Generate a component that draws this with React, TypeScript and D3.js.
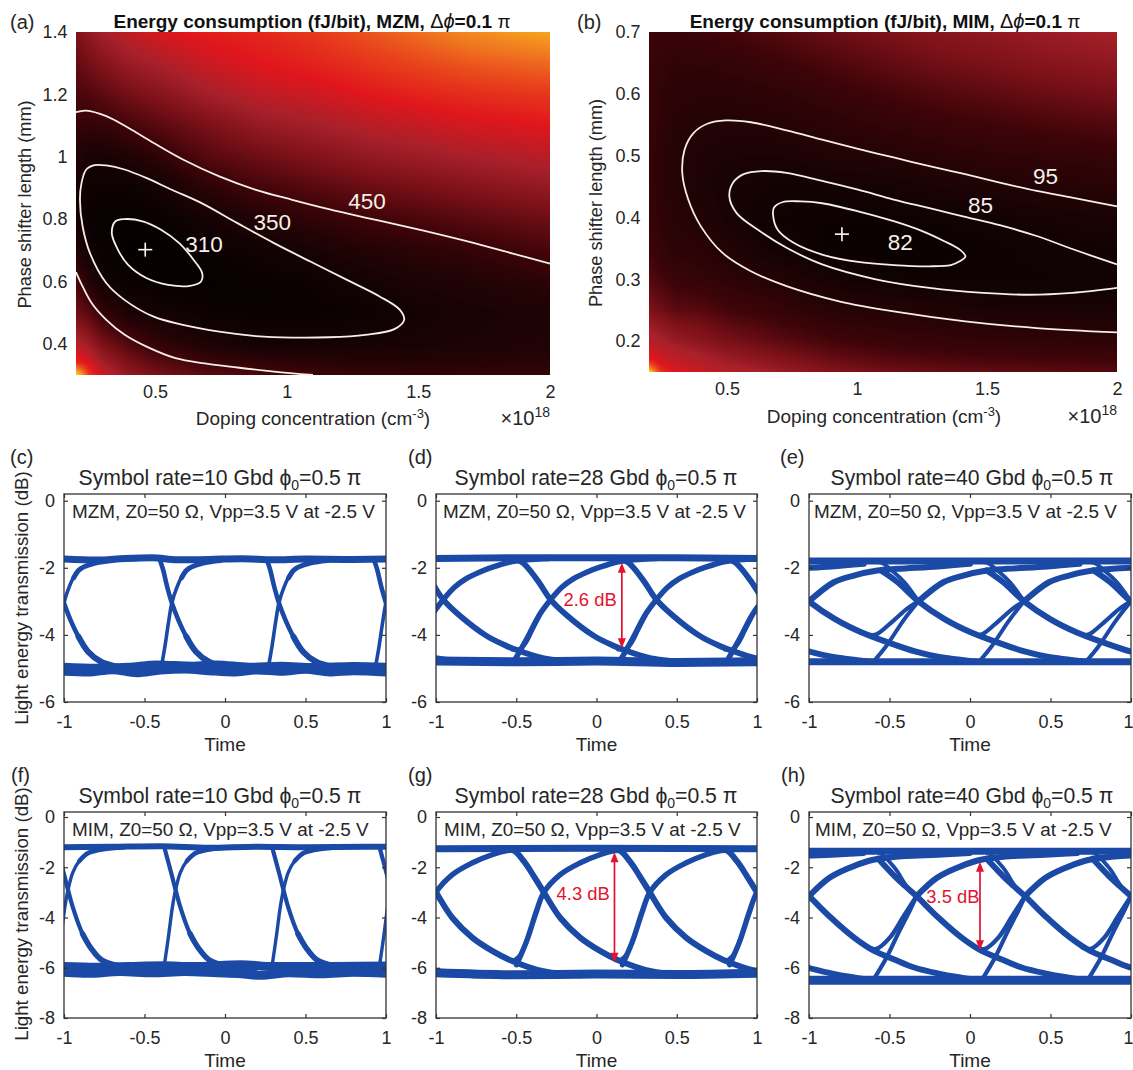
import React, { useRef, useEffect } from 'react';
import * as d3 from 'd3';

type Pt = [number, number];

// ---------- heat maps ----------
const gridXA = [0.2, 0.25, 0.3, 0.4, 0.5, 0.7, 0.9, 1.1, 1.3, 1.5, 1.7, 2.0];
const gridYA = [1.4, 1.3, 1.2, 1.1, 1.0, 0.9, 0.8, 0.7, 0.6, 0.5, 0.4, 0.34, 0.3];
const energyA = [
  [560, 600, 640, 690, 730, 770, 790, 830, 885, 940, 1000, 1060],
  [510, 540, 570, 620, 650, 710, 750, 780, 820, 860, 895, 930],
  [470, 480, 500, 540, 570, 640, 690, 715, 750, 780, 805, 830],
  [435, 430, 435, 460, 490, 550, 610, 640, 675, 700, 725, 750],
  [395, 370, 365, 385, 415, 490, 530, 565, 600, 625, 650, 680],
  [360, 335, 330, 335, 350, 415, 458, 490, 520, 545, 570, 605],
  [358, 325, 315, 310, 318, 358, 395, 425, 450, 470, 495, 530],
  [395, 345, 320, 302, 303, 322, 345, 370, 395, 415, 430, 465],
  [465, 400, 350, 322, 312, 310, 322, 332, 358, 378, 392, 415],
  [530, 490, 430, 375, 355, 330, 320, 322, 330, 356, 368, 385],
  [680, 620, 550, 480, 430, 380, 355, 358, 360, 368, 378, 390],
  [800, 730, 640, 555, 500, 447, 425, 410, 400, 398, 405, 410],
  [1200, 830, 710, 600, 550, 495, 470, 445, 435, 425, 428, 430],
];
const stopsA = [300, 350, 400, 450, 550, 650, 750, 850, 950, 1050, 1250];

const gridXB = [0.2, 0.25, 0.3, 0.4, 0.5, 0.7, 0.9, 1.1, 1.3, 1.5, 1.7, 2.0];
const gridYB = [0.7, 0.65, 0.6, 0.55, 0.5, 0.45, 0.4, 0.35, 0.3, 0.25, 0.2, 0.17, 0.15];
const energyB = [
  [110, 108, 108, 110, 112, 118, 125, 131, 137, 142, 147, 155],
  [108, 104, 102, 103, 104, 109, 115, 121, 127, 131, 136, 142],
  [107, 102, 99, 98, 98, 101, 106, 111, 116, 120, 124, 129],
  [106, 100, 97, 95.5, 94.5, 95.5, 99, 103, 107, 110, 113, 117],
  [105, 99, 96, 92, 90, 90, 93.5, 95, 98, 101, 103, 106],
  [105, 99, 96, 91, 88, 85.5, 86, 87, 90, 92, 94.5, 98],
  [106, 100, 97, 93.5, 89, 83, 82.3, 82.5, 84, 85, 87.5, 90],
  [110, 104, 100, 98, 93, 85, 81.5, 81, 81, 82.5, 84, 86],
  [118, 112, 107, 105, 100, 94, 87, 84, 83, 83, 83, 84],
  [132, 126, 120, 118, 112, 105, 97, 95, 92.5, 90, 89.5, 89],
  [165, 155, 146, 138, 130, 120, 112, 107, 105, 103, 102, 100],
  [215, 190, 175, 160, 148, 135, 124, 118, 115, 113, 112, 110],
  [290, 225, 205, 182, 165, 148, 135, 128, 124, 122, 120, 118],
];
const stopsB = [78, 85, 95, 110, 130, 155, 205, 235, 255, 270, 290];
const heatColors = ['#040000', '#120203', '#240305', '#3d0408', '#7a1018', '#a8202a', '#e0161c', '#e8401c', '#ef741f', '#f5a01e', '#ffe81e'];

// ---------- contours ----------
const contour450Upper: Pt[] = [[0.2, 1.143], [0.239, 1.148], [0.315, 1.13], [0.398, 1.093], [0.495, 1.044], [0.606, 0.991], [0.744, 0.937], [0.883, 0.894], [1.021, 0.862], [1.16, 0.832], [1.298, 0.805], [1.436, 0.779], [1.575, 0.752], [1.713, 0.723], [1.852, 0.691], [2.0, 0.657]];
const contour450Lower: Pt[] = [[0.2, 0.63], [0.225, 0.584], [0.26, 0.53], [0.315, 0.477], [0.385, 0.429], [0.468, 0.391], [0.578, 0.354], [0.689, 0.337], [0.813, 0.324], [0.952, 0.311], [1.1, 0.3]];
const contour350: Pt[] = [[0.215, 0.862], [0.225, 0.777], [0.253, 0.691], [0.315, 0.595], [0.384, 0.541], [0.495, 0.487], [0.606, 0.461], [0.744, 0.439], [0.883, 0.425], [1.021, 0.42], [1.16, 0.421], [1.298, 0.429], [1.409, 0.447], [1.446, 0.477], [1.43, 0.509], [1.353, 0.552], [1.229, 0.605], [1.09, 0.664], [0.952, 0.723], [0.813, 0.787], [0.675, 0.852], [0.564, 0.894], [0.467, 0.932], [0.384, 0.959], [0.315, 0.972], [0.271, 0.973], [0.239, 0.959], [0.221, 0.916]];
const contour310: Pt[] = [[0.336, 0.755], [0.356, 0.707], [0.398, 0.653], [0.467, 0.611], [0.55, 0.589], [0.633, 0.586], [0.675, 0.6], [0.679, 0.627], [0.647, 0.669], [0.592, 0.723], [0.523, 0.766], [0.453, 0.793], [0.384, 0.8], [0.35, 0.793]];
const contour95: Pt[] = [[2.0, 0.214], [1.691, 0.221], [1.416, 0.232], [1.141, 0.248], [0.935, 0.264], [0.729, 0.289], [0.592, 0.313], [0.482, 0.343], [0.399, 0.386], [0.351, 0.429], [0.328, 0.472], [0.337, 0.51], [0.372, 0.537], [0.427, 0.552], [0.495, 0.557], [0.592, 0.554], [0.729, 0.541], [0.866, 0.526], [1.004, 0.511], [1.141, 0.497], [1.279, 0.483], [1.416, 0.47], [1.553, 0.456], [1.691, 0.443], [1.828, 0.432], [2.0, 0.418]];
const contour85: Pt[] = [[2.0, 0.286], [1.828, 0.278], [1.663, 0.275], [1.485, 0.278], [1.279, 0.286], [1.072, 0.3], [0.866, 0.324], [0.729, 0.351], [0.619, 0.38], [0.537, 0.407], [0.509, 0.434], [0.523, 0.456], [0.564, 0.47], [0.633, 0.475], [0.729, 0.472], [0.866, 0.459], [1.004, 0.445], [1.141, 0.429], [1.279, 0.415], [1.416, 0.401], [1.553, 0.387], [1.691, 0.37], [1.828, 0.349], [2.0, 0.324]];
const contour82: Pt[] = [[0.677, 0.405], [0.695, 0.38], [0.756, 0.359], [0.866, 0.34], [1.004, 0.328], [1.141, 0.323], [1.279, 0.321], [1.361, 0.323], [1.395, 0.329], [1.417, 0.337], [1.395, 0.348], [1.334, 0.362], [1.251, 0.378], [1.141, 0.394], [1.004, 0.41], [0.866, 0.423], [0.784, 0.426], [0.715, 0.425], [0.681, 0.416]];

// ---------- eye traces: [time after crossing, dB] ----------
const cCrossings = [-1.665, -1, -0.33, 0.335, 1.0];
const cRise: Pt[] = [[-0.065, -4.95], [-0.045, -4.4], [-0.02, -3.6], [0, -3.05], [0.03, -2.6], [0.07, -2.2], [0.12, -1.98], [0.2, -1.85], [0.3, -1.78], [0.45, -1.75]];
const cRiseArc: Pt[] = [[0.06, -2.3], [0.09, -2.08], [0.12, -1.98], [0.2, -1.85], [0.3, -1.78]];
const cFall: Pt[] = [[-0.075, -1.75], [-0.055, -2.05], [-0.03, -2.55], [0, -3.05], [0.04, -3.55], [0.09, -4.05], [0.15, -4.5], [0.23, -4.8], [0.33, -4.95], [0.5, -5.0]];
const cFallArc: Pt[] = [[0.09, -4.05], [0.15, -4.5], [0.23, -4.8], [0.33, -4.95]];
const cTop: Pt[] = [[-1, -1.74], [-0.8, -1.77], [-0.62, -1.72], [-0.45, -1.7], [-0.3, -1.76], [-0.1, -1.75], [0.1, -1.73], [0.3, -1.76], [0.5, -1.74], [0.75, -1.75], [1, -1.74]];
const cLowA: Pt[] = [[-1, -5.1], [-0.85, -5.12], [-0.7, -5.05], [-0.55, -5.14], [-0.4, -5.06], [-0.25, -5.03], [-0.1, -5.08], [0.05, -5.12], [0.2, -5.06], [0.35, -5.1], [0.5, -5.04], [0.65, -5.12], [0.8, -5.08], [1, -5.12]];
const cLowB: Pt[] = [[-1, -4.95], [-0.8, -4.98], [-0.6, -4.95], [-0.42, -4.88], [-0.2, -4.92], [-0.05, -4.88], [0.15, -4.95], [0.35, -4.92], [0.55, -4.96], [0.8, -4.93], [1, -4.95]];

const dCrossings = [-1.62, -0.955, -0.286, 0.373, 1.04, 1.7];
const dRise: Pt[] = [[-0.22, -4.72], [-0.15, -4.13], [-0.067, -3.38], [0, -2.95], [0.07, -2.58], [0.141, -2.33], [0.225, -2.13], [0.307, -1.98], [0.43, -1.81], [0.52, -1.76], [0.66, -1.72]];
const dRise2: Pt[] = [[-0.24, -4.45], [-0.2, -4.42], [-0.16, -4.3], [-0.11, -3.85], [-0.05, -3.3], [0, -2.95]];
const dFall: Pt[] = [[-0.3, -1.72], [-0.19, -1.8], [-0.145, -1.98], [-0.073, -2.43], [0, -2.95], [0.104, -3.43], [0.27, -4.03], [0.395, -4.33], [0.477, -4.48], [0.627, -4.7], [0.85, -4.82]];
const dTop: Pt[] = [[-1, -1.72], [-0.5, -1.7], [0, -1.7], [0.5, -1.7], [1, -1.72]];
const dLow: Pt[] = [[-1, -4.78], [-0.5, -4.8], [0, -4.78], [0.5, -4.82], [1, -4.8]];

const eCrossings = [-1.66, -1, -0.32, 0.336, 1.0, 1.66];
const eRiseMain: Pt[] = [[0, -3], [0.154, -2.43], [0.278, -2.23], [0.424, -2.08], [0.55, -2.03], [0.8, -1.96], [1.0, -1.88]];
const eRiseA: Pt[] = [[-0.3, -4.0], [-0.26, -3.98], [-0.157, -3.58], [-0.074, -3.23], [0, -3]];
const eRiseB: Pt[] = [[-0.28, -4.8], [-0.2, -4.33], [-0.095, -3.58], [0, -3]];
const eFallA: Pt[] = [[-0.232, -2.08], [-0.129, -2.43], [0, -3], [0.162, -3.53], [0.328, -3.93], [0.494, -4.23], [0.664, -4.5], [0.8, -4.65], [1.04, -4.8]];
const eFallB: Pt[] = [[-0.35, -1.8], [-0.232, -1.85], [-0.16, -2.1], [-0.087, -2.43], [0, -3]];
const eTop: Pt[] = [[-1, -1.8], [0, -1.8], [1, -1.8]];
const eLow: Pt[] = [[-1, -4.8], [0, -4.8], [1, -4.8]];

const fCrossings = [-1.645, -0.975, -0.307, 0.363, 1.03];
const fRise: Pt[] = [[-0.07, -5.9], [-0.045, -4.8], [-0.02, -3.6], [0, -2.9], [0.03, -2.2], [0.07, -1.75], [0.13, -1.42], [0.22, -1.28], [0.35, -1.2]];
const fRiseArc: Pt[] = [[0.07, -1.75], [0.1, -1.55], [0.13, -1.42], [0.22, -1.28], [0.35, -1.2]];
const fFall: Pt[] = [[-0.07, -1.2], [-0.045, -1.8], [-0.02, -2.4], [0, -2.9], [0.03, -3.6], [0.08, -4.5], [0.14, -5.2], [0.21, -5.7], [0.33, -5.95], [0.5, -6.05]];
const fFallArc: Pt[] = [[0.09, -4.65], [0.14, -5.2], [0.21, -5.7], [0.33, -5.95]];
const fTop: Pt[] = [[-1, -1.2], [-0.7, -1.18], [-0.4, -1.16], [-0.1, -1.22], [0.2, -1.18], [0.5, -1.2], [1, -1.18]];
const fLowA: Pt[] = [[-1, -6.18], [-0.85, -6.22], [-0.65, -6.15], [-0.45, -6.2], [-0.25, -6.15], [-0.05, -6.2], [0.1, -6.24], [0.22, -6.3], [0.4, -6.2], [0.6, -6.24], [0.8, -6.18], [1, -6.22]];
const fLowB: Pt[] = [[-1, -5.95], [-0.8, -5.98], [-0.6, -5.95], [-0.38, -5.92], [-0.2, -5.95], [0.1, -5.88], [0.3, -5.95], [0.6, -5.95], [1, -5.93]];

const gCrossings = [-1.66, -1, -0.328, 0.332, 1.0, 1.66];
const gRise: Pt[] = [[-0.17, -5.88], [-0.108, -4.95], [-0.046, -3.75], [0, -3], [0.1, -2.3], [0.224, -1.83], [0.349, -1.5], [0.442, -1.34], [0.6, -1.26]];
const gRise2: Pt[] = [[-0.19, -5.72], [-0.15, -5.5], [-0.1, -4.8], [-0.046, -3.75]];
const gFall: Pt[] = [[-0.3, -1.26], [-0.187, -1.34], [-0.125, -1.76], [-0.062, -2.36], [0, -3], [0.103, -4.02], [0.228, -4.81], [0.353, -5.34], [0.456, -5.68], [0.668, -6.14], [0.9, -6.3]];
const gTop: Pt[] = [[-1, -1.26], [0, -1.24], [1, -1.26]];
const gLow: Pt[] = [[-1, -6.2], [-0.5, -6.28], [0, -6.25], [0.5, -6.27], [1, -6.22]];

const hCrossings = [-1.66, -1, -0.332, 0.342, 1.0, 1.66];
const hRiseMain: Pt[] = [[0, -3.15], [0.125, -2.43], [0.249, -2.03], [0.373, -1.74], [0.436, -1.66], [0.6, -1.55], [0.8, -1.5], [1.0, -1.43]];
const hRiseA: Pt[] = [[-0.3, -5.2], [-0.25, -5.25], [-0.166, -4.8], [-0.083, -3.98], [0, -3.15]];
const hRiseB: Pt[] = [[-0.27, -6.5], [-0.187, -5.6], [-0.104, -4.5], [-0.04, -3.7], [0, -3.15]];
const hFallA: Pt[] = [[-0.238, -1.66], [-0.135, -2.36], [-0.07, -2.75], [0, -3.15], [0.135, -4.0], [0.28, -4.8], [0.405, -5.33], [0.53, -5.67], [0.658, -6.0], [0.9, -6.35], [1.05, -6.5]];
const hFallB: Pt[] = [[-0.35, -1.36], [-0.238, -1.4], [-0.135, -2.03], [-0.062, -2.75], [0, -3.15]];
const hTop: Pt[] = [[-1, -1.36], [0, -1.36], [1, -1.36]];
const hLow: Pt[] = [[-1, -6.5], [0, -6.5], [1, -6.5]];

const timeTicks = [-1, -0.5, 0, 0.5, 1];
const dbTicksMzm = [-6, -4, -2, 0];
const dbTicksMim = [-8, -6, -4, -2, 0];

const textFont = '"Liberation Sans", Arial, sans-serif';
const textColor = '#262626';
const eyeBlue = '#1a49a6';
const arrowRed = '#e3122e';

function heatImage(gridX: number[], gridY: number[], values: number[][], color: (v: number) => string, w: number, h: number, xInv: (p: number) => number, yInv: (p: number) => number) {
  // smooth shading of the read-off grid, the way "shading interp" paints it
  const canvas = document.createElement('canvas');
  canvas.width = w;
  canvas.height = h;
  const ctx = canvas.getContext('2d')!;
  const img = ctx.createImageData(w, h);
  const yAsc = gridY.map(d => -d);
  for (let py = 0; py < h; py++) {
    const yv = -yInv(py + 0.5);
    const j = Math.min(Math.max(d3.bisectRight(yAsc, yv) - 1, 0), gridY.length - 2);
    const ty = Math.min(Math.max((yv - yAsc[j]) / (yAsc[j + 1] - yAsc[j]), 0), 1);
    for (let px = 0; px < w; px++) {
      const xv = xInv(px + 0.5);
      const i = Math.min(Math.max(d3.bisectRight(gridX, xv) - 1, 0), gridX.length - 2);
      const tx = Math.min(Math.max((xv - gridX[i]) / (gridX[i + 1] - gridX[i]), 0), 1);
      const v = (values[j][i] * (1 - tx) + values[j][i + 1] * tx) * (1 - ty) + (values[j + 1][i] * (1 - tx) + values[j + 1][i + 1] * tx) * ty;
      const c = d3.rgb(color(v));
      const k = (py * w + px) * 4;
      img.data[k] = c.r;
      img.data[k + 1] = c.g;
      img.data[k + 2] = c.b;
      img.data[k + 3] = 255;
    }
  }
  ctx.putImageData(img, 0, 0);
  return canvas.toDataURL();
}

function addLabel(g: any, text: string, x: number, y: number, size: number, anchor = 'start') {
  return g.append('text').attr('x', x).attr('y', y).attr('font-size', size).attr('text-anchor', anchor)
    .attr('font-family', textFont).attr('fill', textColor).text(text);
}

function drawHeat(svg: any, opt: any) {
  const x = d3.scaleLinear().domain([0.2, 2]).range([opt.left, opt.right]);
  const y = d3.scaleLinear().domain(opt.yDomain).range([opt.bottom, opt.top]);
  const color = d3.scaleLinear<string>().domain(opt.stops).range(heatColors).clamp(true);
  const w = Math.round(opt.right - opt.left);
  const h = Math.round(opt.bottom - opt.top);
  svg.append('image')
    .attr('x', opt.left).attr('y', opt.top).attr('width', w).attr('height', h)
    .attr('preserveAspectRatio', 'none')
    .attr('href', heatImage(opt.gridX, opt.gridY, opt.values, color, w, h, (p: number) => x.invert(p + opt.left), (p: number) => y.invert(p + opt.top)));

  const open = d3.line<Pt>().x(d => x(d[0])).y(d => y(d[1])).curve(d3.curveCatmullRom);
  const closed = d3.line<Pt>().x(d => x(d[0])).y(d => y(d[1])).curve(d3.curveCatmullRomClosed);
  opt.openContours.forEach((c: Pt[]) => svg.append('path').attr('d', open(c)).attr('fill', 'none').attr('stroke', '#f6efe6').attr('stroke-width', 1.8));
  opt.closedContours.forEach((c: Pt[]) => svg.append('path').attr('d', closed(c)).attr('fill', 'none').attr('stroke', '#f6efe6').attr('stroke-width', 1.8));

  opt.contourLabels.forEach((l: any) => {
    svg.append('text').attr('x', x(l.x)).attr('y', y(l.y)).attr('dy', '0.36em').attr('text-anchor', 'middle')
      .attr('font-family', textFont).attr('font-size', 22.5).attr('fill', '#f4f0ea').text(l.text);
  });

  svg.append('line').attr('x1', x(opt.minX) - 7).attr('x2', x(opt.minX) + 7).attr('y1', y(opt.minY)).attr('y2', y(opt.minY)).attr('stroke', 'white').attr('stroke-width', 1.6);
  svg.append('line').attr('x1', x(opt.minX)).attr('x2', x(opt.minX)).attr('y1', y(opt.minY) - 7).attr('y2', y(opt.minY) + 7).attr('stroke', 'white').attr('stroke-width', 1.6);

  const xAxis = svg.append('g').attr('transform', `translate(0,${opt.bottom})`)
    .call(d3.axisBottom(x).tickValues([0.5, 1, 1.5, 2]).tickSize(0).tickPadding(10.5).tickFormat((d: any) => String(d)));
  const yAxis = svg.append('g').attr('transform', `translate(${opt.left},0)`)
    .call(d3.axisLeft(y).tickValues(opt.yTicks).tickSize(0).tickPadding(8.5).tickFormat((d: any) => String(d)));
  [xAxis, yAxis].forEach(a => {
    a.select('.domain').remove();
    a.selectAll('text').attr('font-family', textFont).attr('font-size', 18).attr('fill', textColor);
  });

  addLabel(svg, opt.panel, opt.panelX, 29, 20);
  const title = svg.append('text').attr('x', opt.titleX).attr('y', 28).attr('text-anchor', 'middle').attr('font-family', textFont).attr('font-size', 19).attr('font-weight', 'bold').attr('fill', '#111');
  title.append('tspan').text(`Energy consumption (fJ/bit), ${opt.device}, `);
  title.append('tspan').attr('font-weight', 'normal').attr('font-size', 20).text('Δ');
  title.append('tspan').attr('font-weight', 'normal').attr('font-style', 'italic').attr('font-size', 20).text('ϕ');
  title.append('tspan').text('=0.1 ');
  title.append('tspan').attr('font-weight', 'normal').text('π');

  const ylab = svg.append('text').attr('transform', `translate(${opt.yLabelX},${(opt.top + opt.bottom) / 2 + 1}) rotate(-90)`)
    .attr('text-anchor', 'middle').attr('font-family', textFont).attr('font-size', 18.2).attr('fill', textColor);
  ylab.text('Phase shifter length (mm)');

  const xlab = svg.append('text').attr('x', opt.xLabelX).attr('y', opt.xLabelY).attr('text-anchor', 'middle').attr('font-family', textFont).attr('font-size', 19).attr('fill', textColor);
  xlab.append('tspan').text('Doping concentration (cm');
  xlab.append('tspan').attr('font-size', 13).attr('dy', -7).text('-3');
  xlab.append('tspan').attr('dy', 7).text(')');

  const mult = svg.append('text').attr('x', opt.right).attr('y', opt.xLabelY).attr('text-anchor', 'end').attr('font-family', textFont).attr('font-size', 20).attr('fill', textColor);
  mult.append('tspan').text('×10');
  mult.append('tspan').attr('font-size', 14).attr('dy', -8).text('18');
}

function drawEye(svg: any, opt: any, idx: number) {
  const x = d3.scaleLinear().domain([-1, 1]).range([opt.left, opt.right]);
  const y = d3.scaleLinear().domain([opt.yMin, 0.2]).range([opt.bottom, opt.top]);
  const clipId = `eye-clip-${idx}`;
  svg.append('clipPath').attr('id', clipId).append('rect')
    .attr('x', opt.left).attr('y', opt.top).attr('width', opt.right - opt.left).attr('height', opt.bottom - opt.top);
  const plot = svg.append('g').attr('clip-path', `url(#${clipId})`);

  const railLine = d3.line<Pt>().x(d => x(d[0])).y(d => y(d[1])).curve(d3.curveMonotoneX);
  opt.rails.forEach(([pts, width]: [Pt[], number]) => {
    plot.append('path').attr('d', railLine(pts)).attr('fill', 'none').attr('stroke', eyeBlue).attr('stroke-width', width);
  });
  opt.traces.forEach(([pts, width]: [Pt[], number]) => {
    opt.crossings.forEach((c: number) => {
      const line = d3.line<Pt>().x(d => x(c + d[0])).y(d => y(d[1])).curve(d3.curveCatmullRom);
      plot.append('path').attr('d', line(pts)).attr('fill', 'none').attr('stroke', eyeBlue).attr('stroke-width', width).attr('stroke-linecap', 'round');
    });
  });

  svg.append('rect').attr('x', opt.left).attr('y', opt.top).attr('width', opt.right - opt.left).attr('height', opt.bottom - opt.top)
    .attr('fill', 'none').attr('stroke', '#333').attr('stroke-width', 1.3);

  const yTicks = opt.yMin === -6 ? dbTicksMzm : dbTicksMim;
  const bottomAxis = svg.append('g').attr('transform', `translate(0,${opt.bottom})`)
    .call(d3.axisBottom(x).tickValues(timeTicks).tickSizeInner(-4).tickSizeOuter(0).tickPadding(13.5).tickFormat((d: any) => String(d)));
  const leftAxis = svg.append('g').attr('transform', `translate(${opt.left},0)`)
    .call(d3.axisLeft(y).tickValues(yTicks).tickSizeInner(-4).tickSizeOuter(0).tickPadding(9).tickFormat((d: any) => String(d)));
  const topAxis = svg.append('g').attr('transform', `translate(0,${opt.top})`)
    .call(d3.axisTop(x).tickValues(timeTicks).tickSizeInner(-4).tickSizeOuter(0).tickFormat(() => ''));
  const rightAxis = svg.append('g').attr('transform', `translate(${opt.right},0)`)
    .call(d3.axisRight(y).tickValues(yTicks).tickSizeInner(-4).tickSizeOuter(0).tickFormat(() => ''));
  [bottomAxis, leftAxis, topAxis, rightAxis].forEach(a => {
    a.select('.domain').remove();
    a.selectAll('line').attr('stroke', '#333').attr('stroke-width', 1.2);
    a.selectAll('text').attr('font-family', textFont).attr('font-size', 18).attr('fill', textColor);
  });
  // the last tick label of the right column sits against the page edge
  if (opt.right > 1120) {
    bottomAxis.selectAll('.tick').filter((d: any) => d === 1).select('text').attr('text-anchor', 'end').attr('dx', 2);
  }

  const mid = (opt.left + opt.right) / 2;
  const title = svg.append('text').attr('x', opt.titleX).attr('y', opt.top - 9).attr('text-anchor', 'middle').attr('font-family', textFont).attr('font-size', 21.2).attr('fill', textColor);
  title.append('tspan').text(`Symbol rate=${opt.rate} Gbd ϕ`);
  title.append('tspan').attr('font-size', 14).attr('dy', 5).text('0');
  title.append('tspan').attr('dy', -5).text('=0.5 π');

  addLabel(svg, opt.panel, opt.panelX, opt.top - 30, 20);
  addLabel(svg, `${opt.device}, Z0=50 Ω, Vpp=3.5 V at -2.5 V`, opt.noteX, opt.top + 23.5, 18.9);
  addLabel(svg, 'Time', mid, opt.bottom + 49, 19, 'middle');

  if (opt.showYLabel) {
    svg.append('text').attr('transform', `translate(28,${opt.yLabelY}) rotate(-90)`).attr('text-anchor', 'middle')
      .attr('font-family', textFont).attr('font-size', 18.7).attr('fill', textColor).text('Light energy transmission (dB)');
  }

  if (opt.gap) {
    svg.append('line').attr('x1', x(opt.gap.t)).attr('x2', x(opt.gap.t)).attr('y1', y(opt.gap.from) + 6).attr('y2', y(opt.gap.to) - 6)
      .attr('stroke', arrowRed).attr('stroke-width', 1.7);
    const head = d3.line<Pt>();
    const px = x(opt.gap.t);
    const pTop = y(opt.gap.from);
    const pBot = y(opt.gap.to);
    svg.append('path').attr('d', head([[px, pTop], [px - 4, pTop + 10], [px + 4, pTop + 10]]) + 'Z').attr('fill', arrowRed);
    svg.append('path').attr('d', head([[px, pBot], [px - 4, pBot - 10], [px + 4, pBot - 10]]) + 'Z').attr('fill', arrowRed);
    svg.append('text').attr('x', x(opt.gap.labelT)).attr('y', y(opt.gap.labelY)).attr('dy', '0.36em').attr('text-anchor', 'middle')
      .attr('font-family', textFont).attr('font-size', 18.4).attr('fill', arrowRed).text(opt.gap.text);
  }
}

const heatPanels = [
  {
    panel: '(a)', panelX: 10, device: 'MZM', left: 76, right: 550, top: 32, bottom: 375, yDomain: [0.3, 1.4], yTicks: [0.4, 0.6, 0.8, 1, 1.2, 1.4],
    gridX: gridXA, gridY: gridYA, values: energyA, stops: stopsA, titleX: 312, yLabelX: 31, xLabelX: 313, xLabelY: 425,
    openContours: [contour450Upper, contour450Lower], closedContours: [contour350, contour310], minX: 0.463, minY: 0.702,
    contourLabels: [{ x: 0.686, y: 0.72, text: '310' }, { x: 0.945, y: 0.79, text: '350' }, { x: 1.305, y: 0.857, text: '450' }],
  },
  {
    panel: '(b)', panelX: 577, device: 'MIM', left: 649, right: 1117, top: 32, bottom: 372, yDomain: [0.15, 0.7], yTicks: [0.2, 0.3, 0.4, 0.5, 0.6, 0.7],
    gridX: gridXB, gridY: gridYB, values: energyB, stops: stopsB, titleX: 885, yLabelX: 602, xLabelX: 884, xLabelY: 423,
    openContours: [contour95, contour85], closedContours: [contour82], minX: 0.942, minY: 0.373,
    contourLabels: [{ x: 1.166, y: 0.36, text: '82' }, { x: 1.475, y: 0.421, text: '85' }, { x: 1.725, y: 0.468, text: '95' }],
  },
];

const eyePanels = [
  {
    panel: '(c)', panelX: 10, rate: 10, device: 'MZM', left: 64, right: 386, top: 494, bottom: 702, yMin: -6, titleX: 220, noteX: 72, showYLabel: true, yLabelY: 598,
    crossings: cCrossings, traces: [[cRise, 3.6], [cRiseArc, 5], [cFall, 4.6], [cFallArc, 6]], rails: [[cTop, 7], [cLowA, 8], [cLowB, 8]],
  },
  {
    panel: '(d)', panelX: 408, rate: 28, device: 'MZM', left: 436, right: 757, top: 494, bottom: 702, yMin: -6, titleX: 596, noteX: 443,
    crossings: dCrossings, traces: [[dRise, 5.5], [dRise2, 3.2], [dFall, 5.8]], rails: [[dTop, 7], [dLow, 9]],
    gap: { t: 0.158, from: -1.85, to: -4.4, labelT: -0.04, labelY: -2.93, text: '2.6 dB' },
  },
  {
    panel: '(e)', panelX: 780, rate: 40, device: 'MZM', left: 809, right: 1131, top: 494, bottom: 702, yMin: -6, titleX: 972, noteX: 814,
    crossings: eCrossings, traces: [[eRiseMain, 6], [eRiseA, 4.2], [eRiseB, 4], [eFallA, 6], [eFallB, 3.8]], rails: [[eTop, 7], [eLow, 7]],
  },
  {
    panel: '(f)', panelX: 11, rate: 10, device: 'MIM', left: 64, right: 386, top: 812, bottom: 1018, yMin: -8, titleX: 220, noteX: 72, showYLabel: true, yLabelY: 914,
    crossings: fCrossings, traces: [[fRise, 3.4], [fRiseArc, 4.6], [fFall, 4.2], [fFallArc, 5.6]], rails: [[fTop, 6], [fLowA, 9], [fLowB, 9]],
  },
  {
    panel: '(g)', panelX: 408, rate: 28, device: 'MIM', left: 436, right: 757, top: 812, bottom: 1018, yMin: -8, titleX: 596, noteX: 444,
    crossings: gCrossings, traces: [[gRise, 5.4], [gRise2, 3.6], [gFall, 6]], rails: [[gTop, 7], [gLow, 9]],
    gap: { t: 0.112, from: -1.4, to: -5.8, labelT: -0.083, labelY: -3.02, text: '4.3 dB' },
  },
  {
    panel: '(h)', panelX: 781, rate: 40, device: 'MIM', left: 809, right: 1131, top: 812, bottom: 1018, yMin: -8, titleX: 972, noteX: 815,
    crossings: hCrossings, traces: [[hRiseMain, 6], [hRiseA, 4.4], [hRiseB, 4.2], [hFallA, 6], [hFallB, 3.8]], rails: [[hTop, 7], [hLow, 9]],
    gap: { t: 0.062, from: -1.78, to: -5.3, labelT: -0.106, labelY: -3.15, text: '3.5 dB' },
  },
];

export default function App() {
  const svgRef = useRef<SVGSVGElement>(null);

  useEffect(() => {
    const svg = d3.select(svgRef.current);
    svg.selectAll('*').remove();
    heatPanels.forEach(p => drawHeat(svg, p));
    eyePanels.forEach((p, i) => drawEye(svg, p, i));
  }, []);

  return (
    <svg ref={svgRef} width={1133} height={1070} style={{ position: 'absolute', left: 0, top: 0, background: 'white' }} />
  );
}
